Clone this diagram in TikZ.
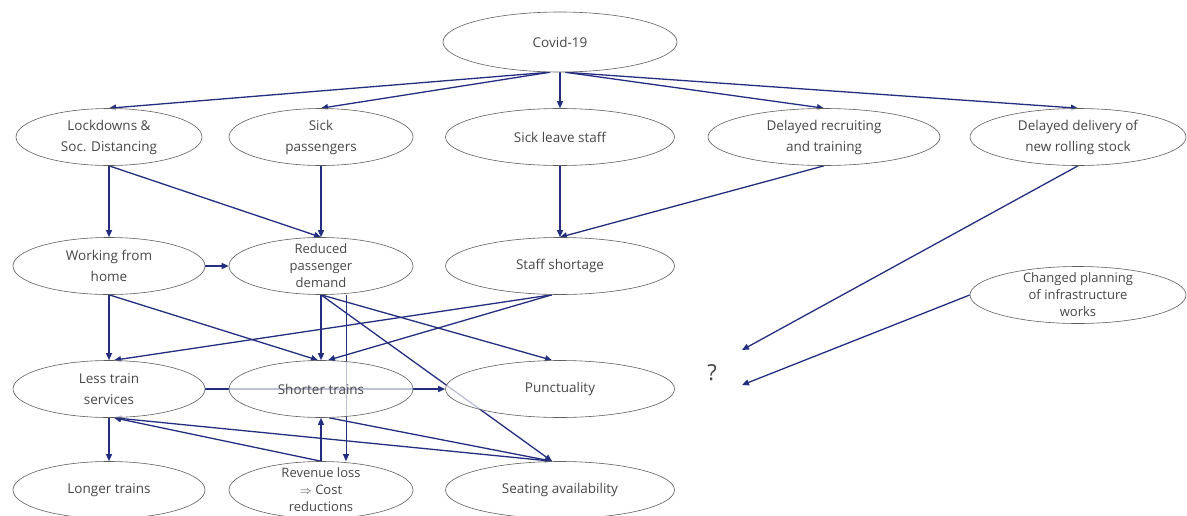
\documentclass[tikz,border=0pt]{standalone}
\usepackage{fontspec}
\setmainfont{Open Sans}
\usetikzlibrary{shapes.geometric,arrows.meta,backgrounds}
\definecolor{linkblue}{RGB}{36,46,128}
\definecolor{rimgray}{RGB}{95,95,95}

\begin{document}
\begin{tikzpicture}[x=1pt, y=-1pt,
    factor/.style={ellipse, draw=rimgray, line width=0.6pt, fill=white,
        fill opacity=0.7, text opacity=1, text=black!72, inner sep=0pt,
        minimum height=57pt, align=center,
        font=\fontsize{13.5}{21}\selectfont},
    tight/.style={font=\fontsize{13}{17}\selectfont, inner ysep=-9pt},
    link/.style={draw=linkblue, line width=1.3pt,
        -{Triangle[length=7pt,width=6pt]}},
    faint/.style={link, line width=0.7pt}]
\useasboundingbox (0,0) rectangle (1187,515);
\def\ca{109}
\def\cb{321}
\def\cc{560}
\def\cd{824}
\def\ce{1078}

\node[factor, minimum width=234pt, minimum height=60pt] (covid) at (\cc,42) {Covid-19};

\node[factor, minimum width=186pt] (lock) at (\ca,137) {Lockdowns \&\\Soc. Distancing};
\node[factor, minimum width=184pt] (sickpass) at (\cb,137) {Sick\\passengers};
\node[factor, minimum width=229pt] (sickstaff) at (\cc,137) {Sick leave staff};
\node[factor, minimum width=232pt] (recruit) at (\cd,137) {Delayed recruiting\\and training};
\node[factor, minimum width=216pt] (delivery) at (\ce,137) {Delayed delivery of\\new rolling stock};

\node[factor, minimum width=192pt] (home) at (\ca,266) {Working from\\home};
\node[factor, tight, minimum width=184pt] (demand) at (\cb,266) {Reduced\\passenger\\demand};
\node[factor, minimum width=229pt] (shortage) at (\cc,266) {Staff shortage};
\node[factor, tight, minimum width=216pt] (planning) at (\ce,295) {Changed planning\\of infrastructure\\works};

\node[factor, minimum width=192pt] (fewer) at (\ca,389) {Less train\\services};
\node[factor, minimum width=184pt] (shorter) at (\cb,389) {Shorter trains};
\node[factor, minimum width=229pt] (punct) at (\cc,389) {Punctuality};
\node[text=black!75, font=\fontsize{22}{24}\selectfont] (unknown) at (712,373) {?};
\coordinate (qa) at (742,350);
\coordinate (qb) at (742,385);

\node[factor, minimum width=192pt] (longer) at (\ca,490) {Longer trains};
\node[factor, tight, minimum width=184pt] (revenue) at (\cb,490) {Revenue loss\\$\Rightarrow$ Cost\\reductions};
\node[factor, minimum width=229pt] (seating) at (\cc,490) {Seating availability};

\begin{scope}[on background layer]
\draw[link] (covid.252) -- (lock.north);
\draw[link] (covid.252) -- (sickpass.north);
\draw[link] (covid.south) -- (sickstaff.north);
\draw[link] (covid.280) -- (recruit.north);
\draw[link] (covid.280) -- (delivery.north);

\draw[link] (lock.south) -- (home.north);
\draw[link] (lock.south) -- (demand.north);
\draw[link] (sickpass.south) -- (demand.north);
\draw[link] (sickstaff.south) -- (shortage.north);
\draw[link] (recruit.south) -- (shortage.north);
\draw[link] (delivery.south) -- (qa);
\draw[link] (planning.west) -- (qb);

\draw[link] (home.east) -- (demand.west);
\draw[link] (home.south) -- (fewer.north);
\draw[link] (home.south) -- ([xshift=-3pt]shorter.north);
\draw[link] (demand.south) -- (shorter.north);
\draw[link] (demand.south) -- ([xshift=-8pt]punct.north);
\draw[link] (demand.south) -- ([xshift=-8pt]seating.north);
\draw[faint] ([xshift=25pt]demand.south) -- ([xshift=25pt]revenue.north);
\draw[link] ([xshift=-8pt]shortage.south) -- ([xshift=5pt]fewer.north);
\draw[link] ([xshift=-8pt]shortage.south) -- ([xshift=7pt]shorter.north);

\draw[link] (fewer.east) -- (punct.west);
\draw[link] (fewer.south) -- (longer.north);
\draw[link] (revenue.north) -- (shorter.south);
\draw[link] (revenue.north) -- ([xshift=5pt]fewer.south);
\draw[link] ([xshift=-8pt]seating.north) -- ([xshift=5pt]fewer.south);
\draw[link] ([xshift=8pt]shorter.south) -- ([xshift=-8pt]seating.north);
\end{scope}
\end{tikzpicture}
\end{document}
